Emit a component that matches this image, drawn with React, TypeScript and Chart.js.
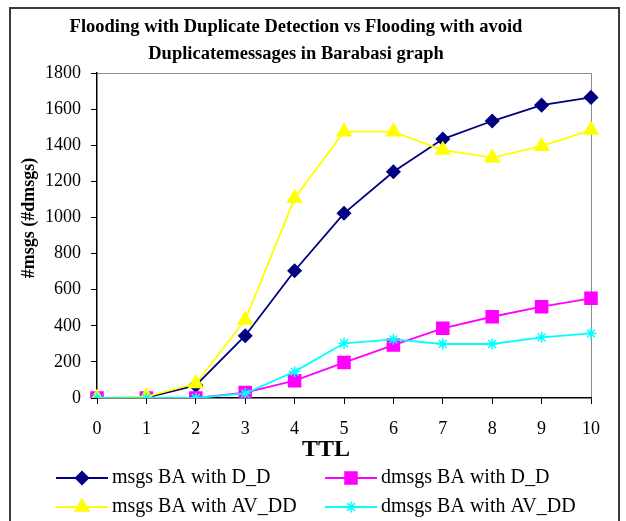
import React, { useEffect, useRef } from "react";
import { Chart, registerables } from "chart.js";
import { drawPoint } from "chart.js/helpers";

Chart.register(...registerables);

const TTL_LABELS = ["0", "1", "2", "3", "4", "5", "6", "7", "8", "9", "10"];
const MSGS_DD = [0, 2, 70, 345, 705, 1023, 1253, 1434, 1534, 1622, 1665];
const DMSGS_DD = [0, 0, 0, 30, 96, 196, 293, 386, 450, 506, 552];
const MSGS_AVDD = [0, 8, 80, 432, 1106, 1475, 1475, 1373, 1331, 1395, 1484];
const DMSGS_AVDD = [0, 0, 0, 25, 146, 303, 325, 299, 299, 336, 358];
const SERIES_NAMES = [
  "msgs BA with D_D",
  "dmsgs BA with D_D",
  "msgs BA with AV_DD",
  "dmsgs BA with AV_DD",
];
const Y_MIN = 0;
const Y_MAX = 1800;
const Y_STEP = 200;
const TITLE_LINES = [
  "Flooding with Duplicate Detection vs Flooding with avoid",
  "Duplicatemessages in Barabasi graph",
];
const X_TITLE = "TTL";
const Y_TITLE = "#msgs (#dmsgs)";

const FONT = "'Liberation Serif', 'Times New Roman', serif";

const decor = {
  id: "decor",
  beforeDraw(chart: any) {
    const ctx = chart.ctx;
    const { left, right, top, bottom } = chart.chartArea;
    ctx.save();
    ctx.fillStyle = "#ffffff";
    ctx.fillRect(0, 0, chart.width, chart.height);
    // outer frame
    ctx.strokeStyle = "#3a3a3a";
    ctx.lineWidth = 2;
    ctx.beginPath();
    ctx.moveTo(10, 540);
    ctx.lineTo(10, 8);
    ctx.lineTo(619, 8);
    ctx.lineTo(619, 540);
    ctx.stroke();
    // plot area top/right border
    ctx.strokeStyle = "#8c8c8c";
    ctx.lineWidth = 1;
    ctx.beginPath();
    ctx.moveTo(left, top + 0.5);
    ctx.lineTo(right + 0.5, top + 0.5);
    ctx.lineTo(right + 0.5, bottom);
    ctx.stroke();
    // title
    ctx.fillStyle = "#000";
    ctx.textAlign = "center";
    ctx.textBaseline = "middle";
    ctx.font = `bold 18.5px ${FONT}`;
    ctx.fillText(TITLE_LINES[0], 296, 27);
    ctx.fillText(TITLE_LINES[1], 296, 54);
    // x title
    ctx.font = `bold 24px ${FONT}`;
    ctx.fillText(X_TITLE, 326, 450);
    // y title
    ctx.save();
    ctx.translate(29, 218);
    ctx.rotate(-Math.PI / 2);
    ctx.font = `bold 18px ${FONT}`;
    ctx.fillText(Y_TITLE, 0, 0);
    ctx.restore();
    ctx.restore();
  },
  afterDraw(chart: any) {
    const ctx = chart.ctx;
    const colX = [56, 325];
    const rowY = [478, 507];
    ctx.save();
    chart.data.datasets.forEach((ds: any, i: number) => {
      const x0 = colX[i % 2];
      const y = rowY[Math.floor(i / 2)];
      ctx.strokeStyle = ds.borderColor;
      ctx.lineWidth = 2;
      ctx.beginPath();
      ctx.moveTo(x0, y);
      ctx.lineTo(x0 + 52, y);
      ctx.stroke();
      ctx.fillStyle = ds.pointBackgroundColor;
      ctx.strokeStyle = ds.pointBorderColor;
      ctx.lineWidth = ds.pointBorderWidth;
      drawPoint(
        ctx,
        {
          pointStyle: ds.pointStyle,
          radius: ds.pointRadius,
          rotation: 0,
          borderWidth: ds.pointBorderWidth,
        },
        x0 + 26,
        y
      );
      ctx.fillStyle = "#000";
      ctx.textAlign = "left";
      ctx.textBaseline = "middle";
      ctx.font = `20px ${FONT}`;
      ctx.fillText(SERIES_NAMES[i], x0 + 56, y);
    });
    ctx.restore();
  },
};

function mkSeries(
  label: string,
  data: number[],
  color: string,
  style: string,
  radius: number,
  order: number
) {
  return {
    label,
    data,
    borderColor: color,
    backgroundColor: color,
    borderWidth: 1.8,
    pointStyle: style,
    pointRadius: radius,
    pointHoverRadius: radius,
    pointBackgroundColor: color,
    pointBorderColor: color,
    pointBorderWidth: 1.5,
    tension: 0,
    order,
  };
}

export default function App() {
  const ref = useRef<HTMLCanvasElement | null>(null);
  useEffect(() => {
    if (!ref.current) return;
    const tickFont = { family: FONT, size: 18 };
    const chart = new Chart(ref.current, {
      type: "line",
      data: {
        labels: TTL_LABELS,
        datasets: [
          mkSeries(SERIES_NAMES[0], MSGS_DD, "#000080", "rectRot", 6.5, 3),
          mkSeries(SERIES_NAMES[1], DMSGS_DD, "#ff00ff", "rect", 8.5, 2),
          mkSeries(SERIES_NAMES[2], MSGS_AVDD, "#ffff00", "triangle", 8, 1),
          mkSeries(SERIES_NAMES[3], DMSGS_AVDD, "#00ffff", "star", 5.5, 0),
        ] as any,
      },
      options: {
        animation: false,
        responsive: false,
        maintainAspectRatio: false,
        devicePixelRatio: 1,
        layout: { padding: { left: 0, right: 35, top: 73, bottom: 83 } },
        plugins: {
          legend: { display: false },
          title: { display: false },
          tooltip: { enabled: false },
        },
        scales: {
          x: {
            type: "category",
            offset: false,
            grid: {
              drawOnChartArea: false,
              drawTicks: true,
              tickLength: 6,
              color: "#000",
            },
            border: { color: "#000", width: 1.5 },
            ticks: {
              color: "#000",
              font: tickFont,
              padding: 14,
              maxRotation: 0,
              autoSkip: false,
            },
            afterFit: (s: any) => {
              s.height = 40;
            },
          },
          y: {
            min: Y_MIN,
            max: Y_MAX,
            grid: {
              drawOnChartArea: false,
              drawTicks: true,
              tickLength: 6,
              color: "#000",
            },
            border: { color: "#000", width: 1.5 },
            ticks: {
              stepSize: Y_STEP,
              color: "#000",
              font: tickFont,
              padding: 10,
              callback: (v: any) => String(v),
            },
            afterFit: (s: any) => {
              s.width = 97;
            },
          },
        },
      } as any,
      plugins: [decor],
    });
    return () => chart.destroy();
  }, []);
  return (
    <div style={{ position: "absolute", left: 0, top: 0, width: 626, height: 521 }}>
      <canvas ref={ref} width={626} height={521} style={{ width: 626, height: 521, display: "block" }} />
    </div>
  );
}
